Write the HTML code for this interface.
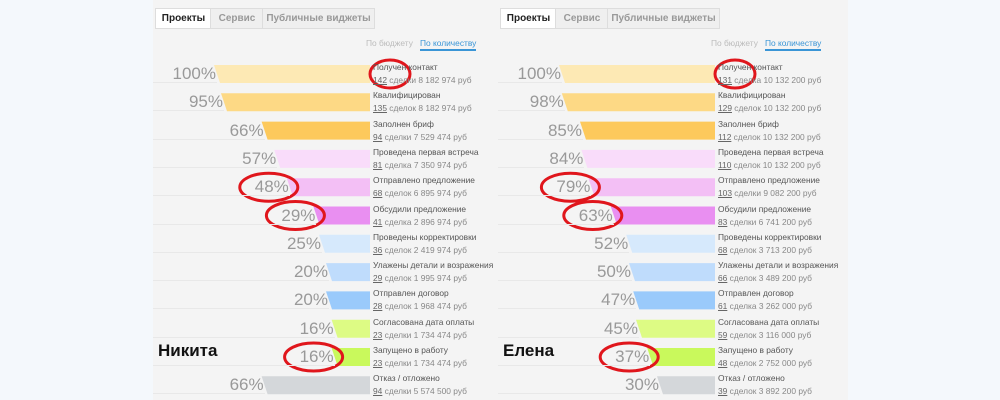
<!DOCTYPE html>
<html><head><meta charset="utf-8">
<style>
body{margin:0;width:1000px;height:400px;background:#f4f8fc;overflow:hidden;font-family:"Liberation Sans","DejaVu Sans",sans-serif;position:relative}
#bg{position:absolute;left:153px;top:0;width:695px;height:400px;background:#f4f4f4}
.abs{position:absolute;white-space:nowrap}
.tab{position:absolute;top:8px;height:19px;border:1px solid #ddd;background:#efefef;font-size:10px;color:#999;line-height:19px;text-align:center;font-weight:bold}
.tab.act{background:#fff;color:#222}
.pct{position:absolute;font-size:17px;color:#999;text-align:right;width:80px}
.nm{position:absolute;font-size:8.4px;color:#555;white-space:nowrap}
.sub{position:absolute;font-size:8.4px;color:#888;white-space:nowrap}
.sub u{color:#666}
.sep{position:absolute;height:1px;background:#e8e8e8}
</style></head><body>
<div id="bg"></div>
<svg id="svg" width="1000" height="400" style="position:absolute;left:0;top:0"></svg>
<div id="root"></div>
<script>
const stages=["Получен контакт","Квалифицирован","Заполнен бриф","Проведена первая встреча","Отправлено предложение","Обсудили предложение","Проведены корректировки","Улажены детали и возражения","Отправлен договор","Согласована дата оплаты","Запущено в работу","Отказ / отложено"];
const colors=["#fde9b4","#fdd985","#fdc95c","#f9dcfa","#f3bff5","#e98ff1","#d6e9fc","#bfdcfc","#9acafb","#ddfb84","#c9f95c","#d4d7da"];
const nikitaPct=[100,95,66,57,48,29,25,20,20,16,16,66];
const nikitaCnt=[142,135,94,81,68,41,36,29,28,23,23,94];
const nikitaWord=["сделки","сделок","сделки","сделка","сделок","сделка","сделок","сделок","сделок","сделки","сделки","сделки"];
const nikitaSum=["8 182 974","8 182 974","7 529 474","7 350 974","6 895 974","2 896 974","2 419 974","1 995 974","1 968 474","1 734 474","1 734 474","5 574 500"];
const elenaPct=[100,98,85,84,79,63,52,50,47,45,37,30];
const elenaCnt=[131,129,112,110,103,83,68,66,61,59,48,39];
const elenaWord=["сделка","сделок","сделок","сделок","сделки","сделки","сделок","сделок","сделка","сделок","сделок","сделок"];
const elenaSum=["10 132 200","10 132 200","10 132 200","10 132 200","9 082 200","6 741 200","3 713 200","3 489 200","3 262 000","3 116 000","2 752 000","3 892 200"];
const nikitaCircles=[0,4,5,10];
const elenaCircles=[0,4,5,10];

const svg=document.getElementById('svg');const root=document.getElementById('root');
const NS="http://www.w3.org/2000/svg";
function rowY(i){return 65+i*28.3;}
function barLeft(ox,p){return ox+214+(100-p)*1.4;}
function panel(ox,name,pct,cnt,word,sum,circ,key){
  const tabs=[["Проекты",55,true],["Сервис",52,false],["Публичные виджеты",111,false]];
  let tx=ox+155;
  tabs.forEach(t=>{const d=document.createElement('div');d.className='tab'+(t[2]?' act':'');d.style.left=tx+'px';d.style.width=t[1]+'px';d.textContent=t[0];
    
    
    root.appendChild(d);tx+=t[1];});
  const s1=document.createElement('div');s1.className='abs';s1.style.cssText=`left:${ox+366}px;top:38px;font-size:8.4px;color:#bbb`;s1.textContent='По бюджету';
  
  
  root.appendChild(s1);
  const s2=document.createElement('div');s2.className='abs';s2.style.cssText=`left:${ox+420}px;top:38px;font-size:8.4px;color:#3a95d6;border-bottom:2px solid #3a95d6;padding-bottom:1px`;s2.textContent='По количеству';
  
  
  root.appendChild(s2);
  pct.forEach((p,i)=>{
    const y=rowY(i),L=barLeft(ox,p),R=ox+370;
    const sep=document.createElement('div');sep.className='sep';sep.style.cssText=`left:${ox+153}px;top:${y+17}px;width:${L-ox-150}px`;
    
    
    root.appendChild(sep);
    const pg=document.createElementNS(NS,'polygon');
    pg.setAttribute('points',`${L},${y} ${R},${y} ${R},${y+18} ${L+6},${y+18}`);
    pg.setAttribute('fill',colors[i]);
    
    
    svg.appendChild(pg);
    const t=document.createElement('div');t.className='pct';t.style.left=(L-78)+'px';t.style.top=(y-1)+'px';t.textContent=p+'%';
    
    
    root.appendChild(t);
    const n=document.createElement('div');n.className='nm';n.style.left=(ox+373)+'px';n.style.top=(y-3)+'px';n.textContent=stages[i];
    
    
    root.appendChild(n);
    const sb=document.createElement('div');sb.className='sub';sb.style.left=(ox+373)+'px';sb.style.top=(y+10)+'px';
    sb.innerHTML=`<u>${cnt[i]}</u> ${word[i]} ${sum[i]} руб`;
    
    
    root.appendChild(sb);
  });
  const nm=document.createElement('div');nm.className='abs';nm.style.cssText=`left:${ox+158}px;top:341px;font-size:17px;font-weight:bold;color:#111`;nm.textContent=name;
  
  
  root.appendChild(nm);
  circ.forEach((i,k)=>{
    const e=document.createElementNS(NS,'ellipse');
    let cx,rx;
    if(k===0){cx=ox+390;rx=20;}else{cx=barLeft(ox,pct[i])-18;rx=29;}
    e.setAttribute('cx',cx);e.setAttribute('cy',rowY(i)+9);e.setAttribute('rx',rx);e.setAttribute('ry',14);
    e.setAttribute('fill','none');e.setAttribute('stroke','#e0161c');e.setAttribute('stroke-width','3');
    
    
    svg.appendChild(e);
  });
}
panel(0,"Никита",nikitaPct,nikitaCnt,nikitaWord,nikitaSum,nikitaCircles,'nikita');
panel(345,"Елена",elenaPct,elenaCnt,elenaWord,elenaSum,elenaCircles,'elena');
</script>
</body></html>
